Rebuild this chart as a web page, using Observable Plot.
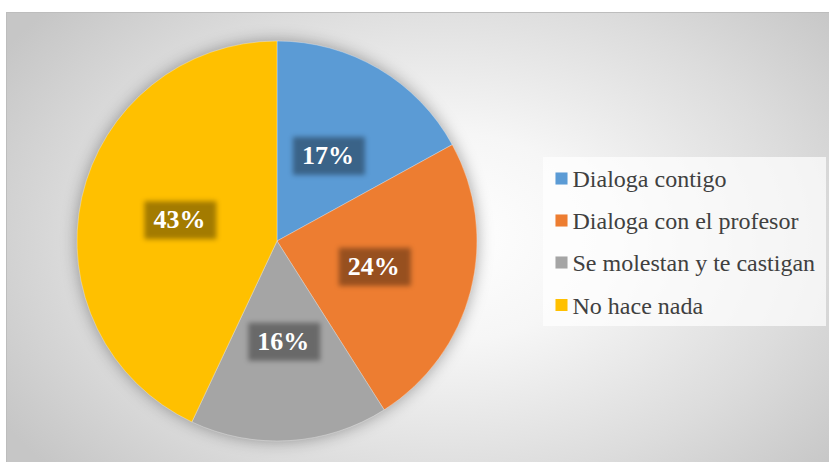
<!DOCTYPE html>
<html>
<head>
<meta charset="utf-8">
<script src="https://cdn.jsdelivr.net/npm/d3@7"></script>
<script src="https://cdn.jsdelivr.net/npm/@observablehq/plot@0.6"></script>
<style>
  html, body { margin: 0; padding: 0; background: #fff; overflow: hidden; }
  #wrap { position: relative; width: 829px; height: 462px; overflow: hidden; }
  #bg { position: absolute; left: 6px; top: 12px; width: 840px; height: 470px;
        border: 1px solid #bdbdbd; box-sizing: border-box;
        background: radial-gradient(ellipse 62% 75% at 52% 48%, #ffffff 0%, #f6f6f6 30%, #dcdcdc 70%, #c6c6c6 100%); }
  #chart { position: absolute; left: 0; top: 0; }
  .lbl { position: absolute; font-family: "Liberation Serif", serif; white-space: nowrap; line-height: 1; }
  .pct { color: #fff; font-weight: bold; font-size: 26px; transform: translate(-50%, -50%); }
  .leg { color: #404040; font-size: 24px; transform: translate(0, -50%); }
</style>
</head>
<body>
<div id="wrap"><div id="bg"></div><div id="chart"></div></div>
<script>
// ---- data ----
const categories = ["Dialoga contigo", "Dialoga con el profesor", "Se molestan y te castigan", "No hace nada"];
const values = [17, 24, 16, 43];
const labels = ["17%", "24%", "16%", "43%"];
const colors = ["#5b9bd5", "#ed7d31", "#a5a5a5", "#ffc000"];

// ---- layout (pixels) ----
const W = 829, H = 462, CX = 277, CY = 241, R = 200;
const px = (p) => (p - CX) / R;       // pixel x -> data x
const py = (p) => (CY - p) / R;       // pixel y -> data y

const rows = categories.map((c, i) => ({ category: c, value: values[i], label: labels[i], color: colors[i] }));
const arcs = d3.pie().sort(null).value(d => d.value)(rows);
const labelPts = arcs.map(a => {
  const m = (a.startAngle + a.endAngle) / 2;
  return { label: a.data.label, x: 0.5 * Math.sin(m), y: 0.5 * Math.cos(m) };
});

// pie slices drawn through the plot's x/y scales
const pieMark = (index, scales) => {
  const sx = scales.x, sy = scales.y;
  const cx = sx(0), cy = sy(0), r = Math.abs(sx(1) - sx(0));
  const g = d3.create("svg:g").attr("transform", `translate(${cx},${cy})`)
    .style("filter", "drop-shadow(0px 0px 8px rgba(0,0,0,0.35))");
  const arc = d3.arc().innerRadius(0).outerRadius(r);
  g.selectAll("path").data(arcs).join("path")
    .attr("d", arc).attr("fill", d => d.data.color)
    .attr("stroke", "#ffffff").attr("stroke-width", 0.5).attr("stroke-opacity", 0.6);
  return g.node();
};

const legendRowsPx = [178, 220, 262, 304.5];
const legendItems = rows.map((d, i) => ({ ...d, ly: py(legendRowsPx[i]) }));

const plot = Plot.plot({
  width: W, height: H,
  margin: 0,
  style: { background: "transparent", overflow: "visible" },
  x: { domain: [px(0), px(W)], range: [0, W], axis: null },
  y: { domain: [py(H), py(0)], range: [H, 0], axis: null },
  marks: [
    pieMark,
    // label backdrops
    Plot.rect(labelPts, {
      x1: d => d.x - 0.175, x2: d => d.x + 0.185,
      y1: d => d.y - 0.1, y2: d => d.y + 0.09,
      fill: "#000", fillOpacity: 0.36
    }),
    // legend box
    Plot.rect([0], {
      x1: px(543), x2: px(826), y1: py(326), y2: py(157),
      fill: "#ffffff", fillOpacity: 0.7
    }),
    Plot.dot(legendItems, {
      x: px(561), y: "ly", symbol: "square", r: 6.8, fill: d => d.color, stroke: "none"
    })
  ]
});
plot.querySelectorAll('g[aria-label="rect"]').forEach((g, i) => {
  if (i === 0) g.style.filter = "blur(2.5px)";
});
const host = document.getElementById("chart");
host.appendChild(plot);

// text placed through the plot's own scales
const xs = plot.scale("x"), ys = plot.scale("y");
const wrap = document.getElementById("wrap");
labelPts.forEach(d => {
  const el = document.createElement("div");
  el.className = "lbl pct";
  el.textContent = d.label;
  el.style.left = xs.apply(d.x) + "px";
  el.style.top = (ys.apply(d.y) + 1) + "px";
  wrap.appendChild(el);
});
legendItems.forEach(d => {
  const el = document.createElement("div");
  el.className = "lbl leg";
  el.textContent = d.category;
  el.style.left = xs.apply(px(572.5)) + "px";
  el.style.top = (ys.apply(d.ly) + 1) + "px";
  wrap.appendChild(el);
});
</script>
</body>
</html>
